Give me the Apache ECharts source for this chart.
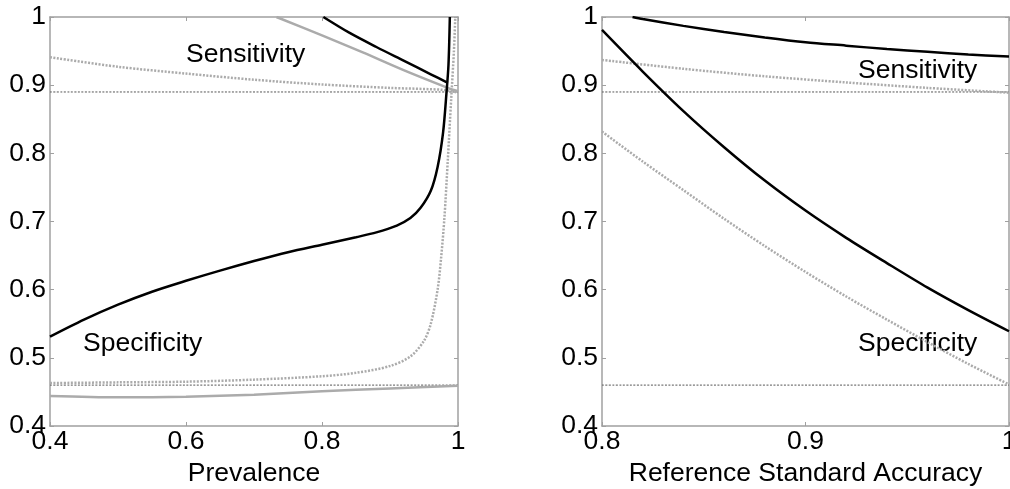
<!DOCTYPE html>
<html lang="en">

<head>
  <meta charset="UTF-8">
  <title>Sensitivity / Specificity</title>
  <script src="https://cdn.jsdelivr.net/npm/echarts@6/dist/echarts.min.js"></script>
  <style>
    html,
    body {
      margin: 0;
      padding: 0;
      width: 100%;
      height: 100%;
      background: #fff;
    }

    #chart {
      width: 1010px;
      height: 489px;
    }
  </style>
</head>

<body>
  <div id="chart"></div>

  <script>
    // reference (true) values drawn as thin dashed lines
    const refSens = 0.89;
    const refSpec = 0.46;

    // left panel: x = prevalence
    const prevSensBlack = [[0.802, 1.0], [0.84, 0.977], [0.88, 0.956], [0.92, 0.936], [0.96, 0.916], [0.985, 0.9035]];
    const prevSensGray = [[0.733, 1.0], [0.8, 0.973], [0.86, 0.948], [0.92, 0.922], [0.985, 0.896], [1.0, 0.891]];
    const prevSensDotted = [[0.4, 0.941], [0.5, 0.927], [0.6, 0.917], [0.7, 0.908], [0.8, 0.901], [0.9, 0.896], [0.98, 0.893], [1.0, 0.889]];
    const prevSpecBlack = [[0.4, 0.531], [0.45, 0.556], [0.5, 0.578], [0.55, 0.597], [0.6, 0.613], [0.65, 0.628], [0.7, 0.642],
      [0.75, 0.655], [0.8, 0.666], [0.85, 0.677], [0.88, 0.684], [0.91, 0.694], [0.93, 0.705], [0.945, 0.72], [0.96, 0.745],
      [0.97, 0.78], [0.978, 0.83], [0.983, 0.888], [0.986, 0.93], [0.988, 1.0]];
    const prevSpecDotted = [[0.4, 0.463], [0.5, 0.464], [0.6, 0.465], [0.7, 0.468], [0.8, 0.473], [0.85, 0.478], [0.9, 0.488],
      [0.93, 0.502], [0.95, 0.525], [0.96, 0.55], [0.97, 0.6], [0.975, 0.645], [0.98, 0.705], [0.985, 0.79], [0.99, 0.88],
      [0.994, 0.95], [0.996, 1.0]];
    const prevSpecGray = [[0.4, 0.444], [0.5, 0.442], [0.6, 0.443], [0.7, 0.446], [0.8, 0.451], [0.9, 0.455], [1.0, 0.459]];

    // right panel: x = reference standard accuracy
    const accSensBlack = [[0.815, 1.0], [0.82, 0.997], [0.84, 0.987], [0.86, 0.978], [0.88, 0.970], [0.9, 0.963], [0.92, 0.958],
      [0.94, 0.953], [0.96, 0.949], [0.98, 0.945], [1.0, 0.942]];
    const accSensDotted = [[0.8, 0.937], [0.84, 0.924], [0.88, 0.913], [0.92, 0.904], [0.96, 0.896], [1.0, 0.889]];
    const accSpecBlack = [[0.8, 0.981], [0.82, 0.920], [0.84, 0.862], [0.86, 0.809], [0.88, 0.760], [0.9, 0.716], [0.92, 0.676],
      [0.94, 0.639], [0.96, 0.603], [0.98, 0.570], [1.0, 0.539]];
    const accSpecDotted = [[0.8, 0.832], [0.82, 0.788], [0.84, 0.746], [0.86, 0.704], [0.88, 0.664], [0.9, 0.626], [0.92, 0.590],
      [0.94, 0.556], [0.96, 0.523], [0.98, 0.491], [1.0, 0.461]];

    const prevRange = [0.4, 1, 0.2];
    const accRange = [0.8, 1, 0.1];
    const yRange = [0.4, 1, 0.1];

    const FONT = 'Liberation Sans';
    const FONT_SIZE = 26.5;
    const AXIS_GRAY = '#a0a0a0';

    const solidBlack = { color: '#000', width: 2.5, type: 'solid' };
    const solidGray = { color: '#ababab', width: 2.5, type: 'solid' };
    const dottedGray = { color: '#ababab', width: 2.5, type: [2, 1.5] };
    const thinDash = { color: '#555', width: 1, type: [2, 1.5] };

    function makeAxis(gridIndex, range, position, name) {
      const showLabel = position === 'bottom' || position === 'left';
      return {
        type: 'value',
        gridIndex: gridIndex,
        position: position,
        min: range[0],
        max: range[1],
        interval: range[2],
        name: name || '',
        nameLocation: 'middle',
        nameGap: 34,
        nameTextStyle: { color: '#000', fontSize: FONT_SIZE, fontFamily: FONT },
        axisLine: { show: true, onZero: false, lineStyle: { color: AXIS_GRAY, width: 1.5 } },
        axisTick: { show: true, inside: true, length: 4, lineStyle: { color: AXIS_GRAY } },
        axisLabel: {
          show: showLabel,
          color: '#000',
          fontSize: FONT_SIZE,
          fontFamily: FONT,
          margin: position === 'left' ? 4 : 2
        },
        splitLine: { show: false }
      };
    }

    function line(data, style, xi, yi) {
      return {
        type: 'line',
        data: data,
        xAxisIndex: xi,
        yAxisIndex: yi,
        showSymbol: false,
        smooth: 0.3,
        lineStyle: style,
        silent: true,
        animation: false
      };
    }

    function hline(v, range, xi, yi) {
      return line([[range[0], v], [range[1], v]], thinDash, xi, yi);
    }

    function label(text, x, y) {
      return {
        type: 'text',
        left: x,
        top: y,
        style: { text: text, fill: '#000', fontSize: FONT_SIZE, fontFamily: FONT }
      };
    }

    const chart = echarts.init(document.getElementById('chart'));

    const option = {
      backgroundColor: '#fff',
      animation: false,
      grid: [
        { left: 50, top: 17, width: 408, height: 409, containLabel: false, outerBoundsMode: 'none' },
        { left: 602, top: 17, width: 407, height: 409, containLabel: false, outerBoundsMode: 'none' }
      ],
      xAxis: [
        makeAxis(0, prevRange, 'bottom', 'Prevalence'),
        makeAxis(0, prevRange, 'top'),
        makeAxis(1, accRange, 'bottom', 'Reference Standard Accuracy'),
        makeAxis(1, accRange, 'top')
      ],
      yAxis: [
        makeAxis(0, yRange, 'left'),
        makeAxis(0, yRange, 'right'),
        makeAxis(1, yRange, 'left'),
        makeAxis(1, yRange, 'right')
      ],
      series: [
        hline(refSens, prevRange, 0, 0),
        hline(refSpec, prevRange, 0, 0),
        line(prevSensDotted, dottedGray, 0, 0),
        line(prevSpecDotted, dottedGray, 0, 0),
        line(prevSensGray, solidGray, 0, 0),
        line(prevSpecGray, solidGray, 0, 0),
        line(prevSensBlack, solidBlack, 0, 0),
        line(prevSpecBlack, solidBlack, 0, 0),

        hline(refSens, accRange, 2, 2),
        hline(refSpec, accRange, 2, 2),
        line(accSensDotted, dottedGray, 2, 2),
        line(accSpecDotted, dottedGray, 2, 2),
        line(accSensBlack, solidBlack, 2, 2),
        line(accSpecBlack, solidBlack, 2, 2)
      ],
      graphic: [
        label('Sensitivity', 186, 41),
        label('Specificity', 83, 330),
        label('Sensitivity', 858, 57),
        label('Specificity', 858, 330)
      ]
    };

    chart.setOption(option);
  </script>
</body>

</html>
